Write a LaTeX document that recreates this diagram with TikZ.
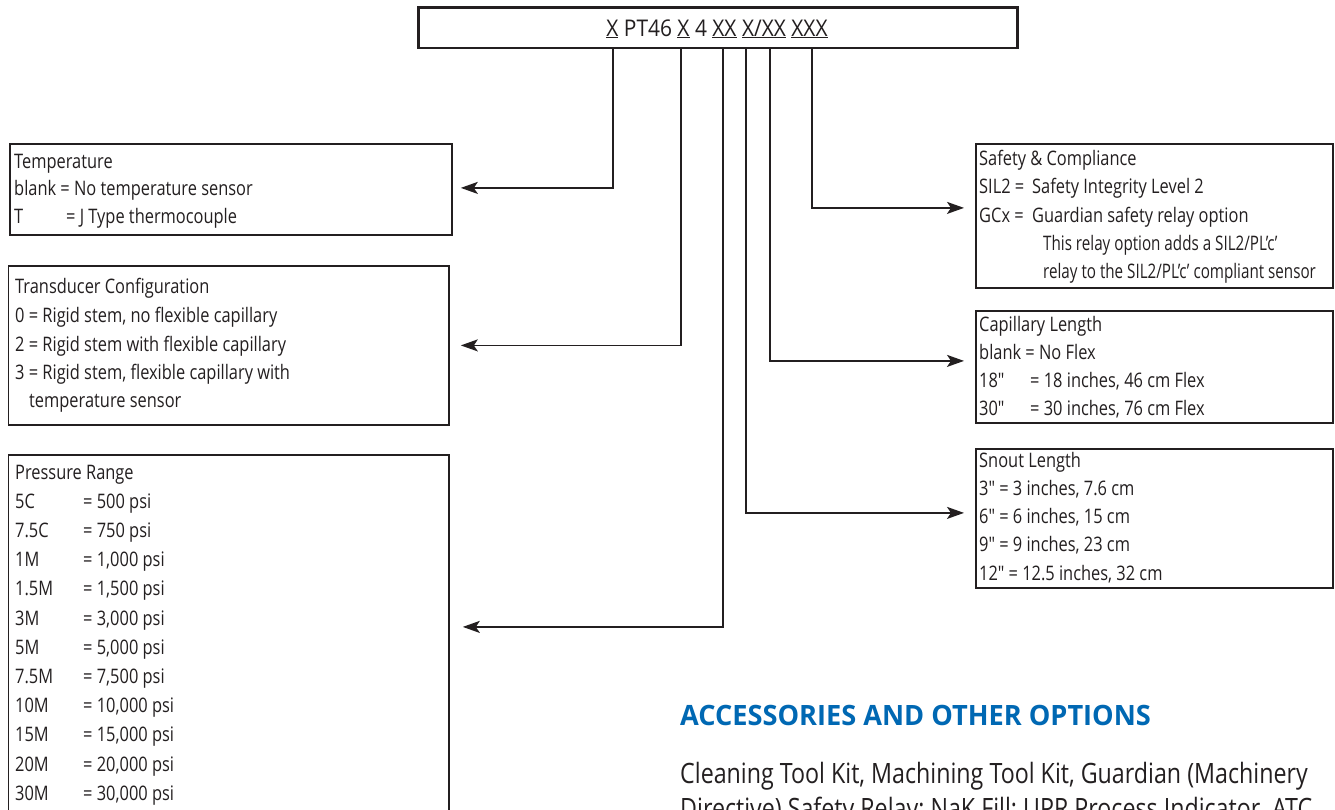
\documentclass[tikz,border=0pt]{standalone}
\usepackage{fontspec}
\setmainfont{Open Sans}[FakeStretch=0.82]
\newfontfamily\narrowfont{Open Sans}[FakeStretch=0.76]
\newfontfamily\headfont{Open Sans}[FakeStretch=0.97]
\newfontfamily\bodyfont{Open Sans}[FakeStretch=0.83]
\newfontfamily\codefont{Open Sans}[FakeStretch=0.91]
\usetikzlibrary{arrows.meta}
\definecolor{ink}{HTML}{231F20}
\definecolor{accblue}{RGB}{0,104,179}
\tikzset{
  box/.style={draw=ink, line width=1.8pt, inner sep=0pt, anchor=north west},
  topbox/.style={draw=ink, line width=2.6pt, inner sep=0pt, anchor=north west},
  txt/.style={anchor=base west, inner sep=0pt, text=ink, font=\fontsize{20}{24}\selectfont},
  conn/.style={draw=ink, line width=1.8pt, -{Stealth[length=17pt,width=12pt,inset=4pt]}}
}
\begin{document}
\begin{tikzpicture}[x=1pt,y=-1pt]
\useasboundingbox (0,0) rectangle (1335,809);
\clip (0,0) rectangle (1335,809);
\fill[white] (0,0) rectangle (1335,809);

% model code box
\node[topbox, minimum width=599pt, minimum height=40.5pt] (code) at (417,6) {};
\node[anchor=base, inner sep=0pt, text=ink, font=\codefont\fontsize{23}{27}\selectfont] (codetext) at (717,36)
  {\underline{X} PT46 \underline{X} 4 \underline{XX} \underline{X/XX} \underline{XXX}};
\coordinate (c1) at ([xshift=196pt]code.south west);
\coordinate (c2) at ([xshift=264pt]code.south west);
\coordinate (c3) at ([xshift=306pt]code.south west);
\coordinate (c4) at ([xshift=329pt]code.south west);
\coordinate (c5) at ([xshift=353pt]code.south west);
\coordinate (c6) at ([xshift=395pt]code.south west);

% Temperature
\node[box, minimum width=442pt, minimum height=91pt] (tempbox) at (9,143) {};
\node[txt] (t0) at (14,168) {Temperature};
\node[txt] (t1) at (14,195.5) {blank = No temperature sensor};
\node[txt] (t2) at (14,223) {\makebox[52pt][l]{T}= J Type thermocouple};

% Transducer configuration
\node[box, minimum width=440.5pt, minimum height=159pt] (transbox) at (7.5,265) {};
\node[txt] (r0) at (15,293) {Transducer Configuration};
\node[txt] (r1) at (15,322) {0 = Rigid stem, no flexible capillary};
\node[txt] (r2) at (15,351) {2 = Rigid stem with flexible capillary};
\node[txt] (r3) at (15,379) {3 = Rigid stem, flexible capillary with};
\node[txt] (r4) at (29,407) {temperature sensor};

% Pressure range
\node[box, minimum width=440.5pt, minimum height=400pt] (pressbox) at (7.5,454) {};
\node[txt] (p0) at (15,479) {Pressure Range};
\node[txt] (p1) at (15,508.2) {\makebox[68pt][l]{5C}= 500 psi};
\node[txt] (p2) at (15,537.4) {\makebox[68pt][l]{7.5C}= 750 psi};
\node[txt] (p3) at (15,566.6) {\makebox[68pt][l]{1M}= 1,000 psi};
\node[txt] (p4) at (15,595.8) {\makebox[68pt][l]{1.5M}= 1,500 psi};
\node[txt] (p5) at (15,625) {\makebox[68pt][l]{3M}= 3,000 psi};
\node[txt] (p6) at (15,654.2) {\makebox[68pt][l]{5M}= 5,000 psi};
\node[txt] (p7) at (15,683.4) {\makebox[68pt][l]{7.5M}= 7,500 psi};
\node[txt] (p8) at (15,712.6) {\makebox[68pt][l]{10M}= 10,000 psi};
\node[txt] (p9) at (15,741.8) {\makebox[68pt][l]{15M}= 15,000 psi};
\node[txt] (p10) at (15,771) {\makebox[68pt][l]{20M}= 20,000 psi};
\node[txt] (p11) at (15,800.2) {\makebox[68pt][l]{30M}= 30,000 psi};

% Safety & Compliance
\node[box, minimum width=357pt, minimum height=144pt] (safebox) at (975,143) {};
\node[txt] (s0) at (979,165) {Safety \& Compliance};
\node[txt] (s1) at (979,193) {\makebox[53pt][l]{SIL2 =}Safety Integrity Level 2};
\node[txt] (s2) at (979,222) {\makebox[53pt][l]{GCx =}Guardian safety relay option};
\node[txt, font=\narrowfont\fontsize{20}{24}\selectfont] (s3) at (1043,250) {This relay option adds a SIL2/PL’c’};
\node[txt, font=\narrowfont\fontsize{20}{24}\selectfont] (s4) at (1043,278) {relay to the SIL2/PL’c’ compliant sensor};

% Capillary length
\node[box, minimum width=357pt, minimum height=112pt] (capbox) at (975,310) {};
\node[txt] (k0) at (979,331) {Capillary Length};
\node[txt] (k1) at (979,359) {blank = No Flex};
\node[txt] (k2) at (979,387) {\makebox[51pt][l]{18″}= 18 inches, 46 cm Flex};
\node[txt] (k3) at (979,415) {\makebox[51pt][l]{30″}= 30 inches, 76 cm Flex};

% Snout length
\node[box, minimum width=357pt, minimum height=139pt] (snoutbox) at (975,448) {};
\node[txt] (n0) at (979,467) {Snout Length};
\node[txt] (n1) at (979,495.3) {3″ = 3 inches, 7.6 cm};
\node[txt] (n2) at (979,523.6) {6″ = 6 inches, 15 cm};
\node[txt] (n3) at (979,551.9) {9″ = 9 inches, 23 cm};
\node[txt] (n4) at (979,580.2) {12″ = 12.5 inches, 32 cm};

% connectors
\draw[conn, shorten >=8pt] (c1) |- ([yshift=1.5pt]tempbox.east);
\draw[conn, shorten >=11pt] (c2) |- (transbox.east);
\draw[conn, shorten >=13pt] (c3) |- ([yshift=28pt]pressbox.east);
\draw[conn, shorten >=11pt] (c4) |- ([yshift=5.5pt]snoutbox.west);
\draw[conn, shorten >=11pt] (c5) |- ([yshift=6pt]capbox.west);
\draw[conn, shorten >=11pt] (c6) |- ([yshift=8pt]safebox.west);

% accessories
\node[anchor=base west, inner sep=0pt, text=accblue, font=\headfont\bfseries\fontsize{28}{32}\selectfont] (acchead) at (680,725) {ACCESSORIES AND OTHER OPTIONS};
\node[anchor=base west, inner sep=0pt, text=ink, font=\bodyfont\fontsize{28}{32}\selectfont] (acc1) at (680,783) {Cleaning Tool Kit, Machining Tool Kit, Guardian (Machinery};
\node[anchor=base west, inner sep=0pt, text=ink, font=\bodyfont\fontsize{28}{32}\selectfont] (acc2) at (680,818) {Directive) Safety Relay; NaK Fill; UPR Process Indicator, ATC};
\end{tikzpicture}
\end{document}
